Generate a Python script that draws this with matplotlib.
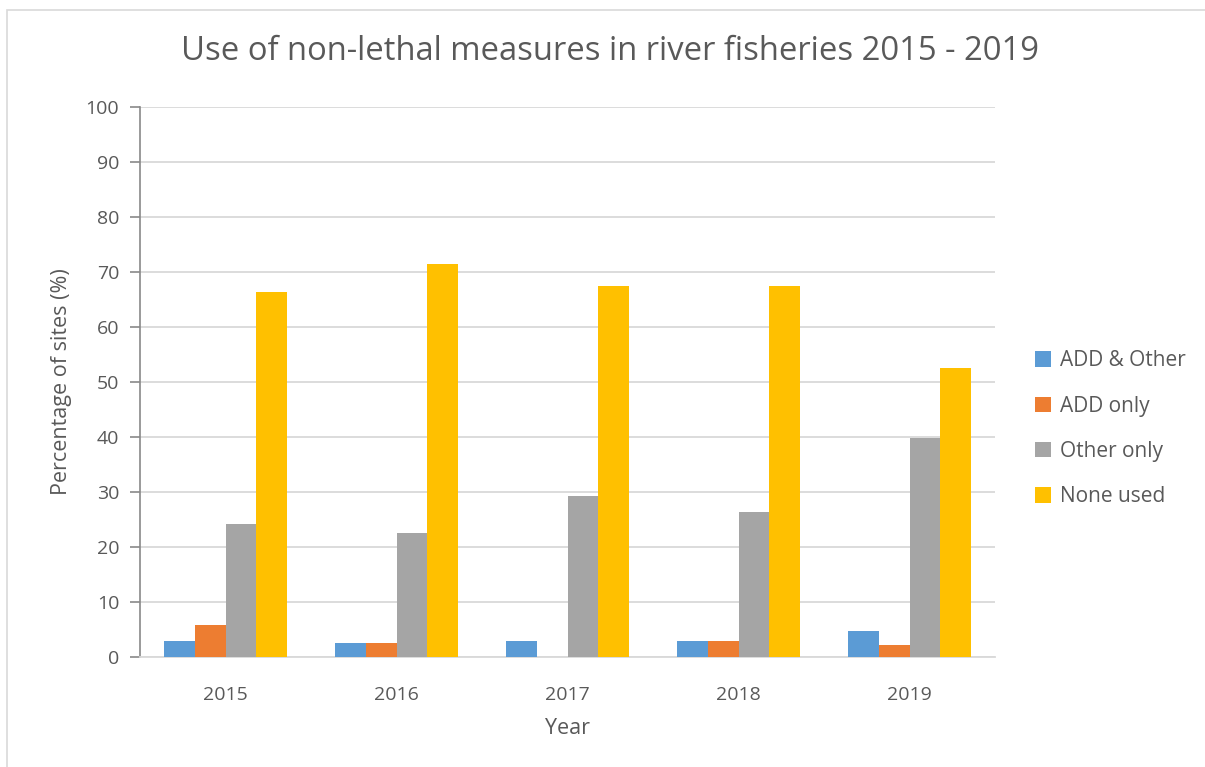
import numpy as np
import matplotlib
matplotlib.use('Agg')
import matplotlib.pyplot as plt
from matplotlib.patches import Rectangle

years = ['2015', '2016', '2017', '2018', '2019']
series_names = ['ADD & Other', 'ADD only', 'Other only', 'None used']
add_and_other = [3.0, 2.6, 3.0, 3.0, 4.8]
add_only = [5.9, 2.6, 0.0, 3.0, 2.2]
other_only = [24.1, 22.6, 29.2, 26.3, 39.8]
none_used = [66.3, 71.4, 67.4, 67.4, 52.5]
colors = ['#5b9bd5', '#ed7d31', '#a5a5a5', '#ffc000']

text_col = '#595959'
plt.rcParams['font.family'] = ['Open Sans', 'DejaVu Sans']

fig = plt.figure(figsize=(12.05, 7.67), dpi=100)
ax = fig.add_axes([140 / 1205, 1 - 657 / 767, 855 / 1205, 550 / 767])

x = np.arange(len(years))
w = 0.18
data = [add_and_other, add_only, other_only, none_used]
for i, (vals, name, c) in enumerate(zip(data, series_names, colors)):
    ax.bar(x + (i - 1.5) * w, vals, w, color=c, label=name, zorder=3)

ax.set_xlim(-0.5, 4.5)
ax.set_ylim(0, 100)
ax.set_yticks(range(0, 101, 10))
ax.set_xticks(x)
ax.set_xticklabels(years)
ax.yaxis.grid(True, color='#d9d9d9', linewidth=1.3, zorder=0)
ax.set_axisbelow(True)

for s in ['top', 'right']:
    ax.spines[s].set_visible(False)
ax.spines['left'].set_color('#898989')
ax.spines['left'].set_linewidth(1.2)
ax.spines['bottom'].set_color('#d9d9d9')
ax.spines['bottom'].set_linewidth(1.3)
ax.tick_params(axis='y', colors='#898989', labelcolor=text_col, labelsize=14,
               length=7, width=1.2, pad=8)
ax.tick_params(axis='x', length=0, labelcolor=text_col, labelsize=14, pad=21)

ax.set_xlabel('Year', color=text_col, fontsize=15.5, labelpad=10)
ax.set_ylabel('Percentage of sites (%)', color=text_col, fontsize=15.5, labelpad=10)

fig.text(0.506, 1 - 52 / 767, 'Use of non-lethal measures in river fisheries 2015 - 2019',
         ha='center', va='center', color=text_col, fontsize=23.6)

ax.legend(loc='center left', bbox_to_anchor=(1.025, 0.415), frameon=False,
          fontsize=15, labelcolor=text_col, handlelength=0.75, handleheight=0.75,
          handletextpad=0.45, labelspacing=1.17)

fig.patches.append(Rectangle((7 / 1205, -0.01), 1.2, 1 - 10 / 767 + 0.01,
                             transform=fig.transFigure, fill=False,
                             edgecolor='#d9d9d9', linewidth=1.2))

fig.savefig('out.png', dpi=100)
